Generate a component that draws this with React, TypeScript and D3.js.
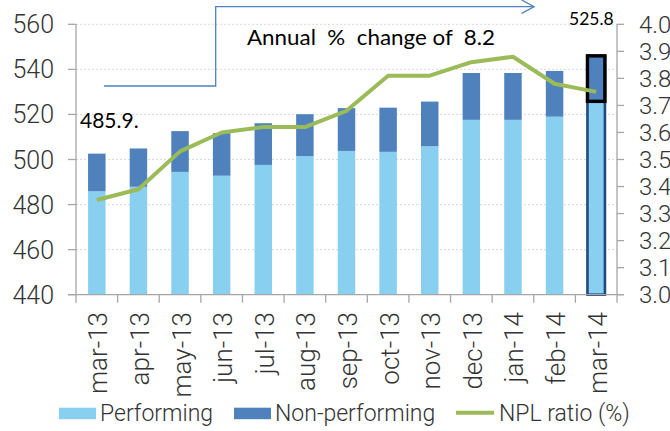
import React from 'react';
import * as d3 from 'd3';

const months = ['mar-13', 'apr-13', 'may-13', 'jun-13', 'jul-13', 'aug-13', 'sep-13', 'oct-13', 'nov-13', 'dec-13', 'jan-14', 'feb-14', 'mar-14'];
const performing = [485.9, 487.9, 494.5, 492.8, 497.6, 501.5, 503.8, 503.4, 505.9, 517.6, 517.6, 519.0, 525.8];
const nonPerforming = [16.7, 17.0, 18.1, 18.9, 18.5, 18.6, 19.0, 19.6, 19.8, 20.8, 20.8, 20.3, 20.2];
const nplRatio = [3.35, 3.39, 3.53, 3.6, 3.62, 3.62, 3.68, 3.81, 3.81, 3.86, 3.88, 3.78, 3.75];
const leftTicks = [440, 460, 480, 500, 520, 540, 560];
const rightTicks = [3.0, 3.1, 3.2, 3.3, 3.4, 3.5, 3.6, 3.7, 3.8, 3.9, 4.0];
const titleText = 'Annual  %  change of  8.2';
const firstLabel = '485.9.';
const lastLabel = '525.8';
const seriesNames = ['Performing', 'Non-performing', 'NPL ratio (%)'];

const C_PERF = '#89CFF0';
const C_NPL = '#4F81BD';
const C_LINE = '#9BBB59';
const C_AXIS = '#A6A6A6';
const AXIS_FONT = 'Roboto, "Liberation Sans", sans-serif';
const LABEL_FONT = 'Lato, "Open Sans", sans-serif';

export default function App() {
  const W = 670, H = 431;
  const x0 = 76, x1 = 617, yTop = 24.3, yBot = 294.7;
  const x = d3.scaleBand<string>().domain(months).range([x0, x1]).paddingInner(0.58).paddingOuter(0.29);
  const y = d3.scaleLinear().domain([440, 560]).range([yBot, yTop]);
  const y2 = d3.scaleLinear().domain([3.0, 4.0]).range([yBot, yTop]);
  const step = x.step();
  const cx = (m: string) => (x(m) as number) + x.bandwidth() / 2;

  const line = d3.line<number>()
    .x((_, i) => cx(months[i]))
    .y((d) => y2(d));

  const last = months.length - 1;
  const lastX = x(months[last]) as number;
  const bw = x.bandwidth();

  return (
    <svg width={W} height={H} style={{ position: 'absolute', left: 0, top: 0, background: '#fff' }}>
      {/* gridlines */}
      {leftTicks.filter((t) => t !== 440).map((t) => (
        <line key={'g' + t} x1={x0} x2={x1} y1={y(t)} y2={y(t)} stroke="#D9D9D9" strokeDasharray="2,2" />
      ))}

      {/* bars */}
      {months.map((m, i) => (
        <g key={m}>
          <rect x={x(m)} width={bw} y={y(performing[i])} height={y(440) - y(performing[i])} fill={C_PERF} />
          <rect x={x(m)} width={bw} y={y(performing[i] + nonPerforming[i])} height={y(performing[i]) - y(performing[i] + nonPerforming[i])} fill={C_NPL} />
        </g>
      ))}
      {/* highlight last bar */}
      <rect x={lastX} width={bw} y={y(performing[last] + nonPerforming[last])} height={y(440) - y(performing[last] + nonPerforming[last])}
        fill="none" stroke="#1F4A7E" strokeWidth={2.6} />
      <rect x={lastX} width={bw} y={y(performing[last] + nonPerforming[last])} height={y(performing[last]) - y(performing[last] + nonPerforming[last])}
        fill="none" stroke="#000" strokeWidth={3.4} />

      {/* NPL line */}
      <path d={line(nplRatio) || ''} fill="none" stroke={C_LINE} strokeWidth={4} strokeLinejoin="round" />

      {/* left axis */}
      <line x1={x0} x2={x0} y1={yTop} y2={yBot} stroke={C_AXIS} strokeWidth={1.3} />
      {leftTicks.map((t) => (
        <g key={'l' + t}>
          <line x1={x0 - 8} x2={x0} y1={y(t)} y2={y(t)} stroke={C_AXIS} strokeWidth={1.3} />
          <text x={54} y={y(t)} dy="0.36em" textAnchor="end" fontFamily={AXIS_FONT} fontWeight={300} fontSize={25} fill="#333">{t}</text>
        </g>
      ))}

      {/* right axis */}
      <line x1={x1} x2={x1} y1={yTop} y2={yBot} stroke={C_AXIS} strokeWidth={1.3} />
      {rightTicks.map((t) => (
        <g key={'r' + t}>
          <line x1={x1} x2={x1 + 7} y1={y2(t)} y2={y2(t)} stroke={C_AXIS} strokeWidth={1.3} />
          <text x={639} y={y2(t)} dy="0.36em" textAnchor="start" fontFamily={AXIS_FONT} fontWeight={300} fontSize={24} fill="#333">{d3.format('.1f')(t)}</text>
        </g>
      ))}

      {/* x axis */}
      <line x1={x0 - 8} x2={x1 + 7} y1={yBot} y2={yBot} stroke={C_AXIS} strokeWidth={1.3} />
      {d3.range(months.length + 1).map((i) => (
        <line key={'xt' + i} x1={x0 + i * step} x2={x0 + i * step} y1={yBot} y2={yBot + 8} stroke={C_AXIS} strokeWidth={1.3} />
      ))}
      {months.map((m) => (
        <text key={'xl' + m} transform={`translate(${cx(m) + 10.5},${312}) rotate(-90)`} textAnchor="end"
          fontFamily={AXIS_FONT} fontWeight={300} fontSize={26} fill="#333">{m}</text>
      ))}

      {/* annotation arrow */}
      <path d="M104,86 H215.7 V6.7 H534" fill="none" stroke="#4F81BD" strokeWidth={1.3} />
      <path d="M521.7,0 L534,6.7 L521.7,13.4" fill="none" stroke="#4F81BD" strokeWidth={1.3} />
      <text x={247} y={44.5} fontFamily={LABEL_FONT} fontSize={21} fill="#000" style={{ whiteSpace: 'pre' }} textLength={248} lengthAdjust="spacingAndGlyphs">{titleText}</text>

      {/* value labels */}
      <text x={80} y={128} fontFamily={LABEL_FONT} fontSize={21} fill="#000">{firstLabel}</text>
      <text x={569} y={25} fontFamily={LABEL_FONT} fontSize={17.5} fill="#000">{lastLabel}</text>

      {/* legend */}
      <rect x={59} y={407.7} width={37} height={11.5} fill={C_PERF} />
      <text x={100} y={421} fontFamily={AXIS_FONT} fontWeight={300} fontSize={23} fill="#333">{seriesNames[0]}</text>
      <rect x={234} y={407.7} width={37} height={11.5} fill={C_NPL} />
      <text x={275} y={421} fontFamily={AXIS_FONT} fontWeight={300} fontSize={23} fill="#333">{seriesNames[1]}</text>
      <line x1={456} x2={494} y1={412.7} y2={412.7} stroke={C_LINE} strokeWidth={4} />
      <text x={499} y={421} fontFamily={AXIS_FONT} fontWeight={300} fontSize={23} fill="#333">{seriesNames[2]}</text>
    </svg>
  );
}
